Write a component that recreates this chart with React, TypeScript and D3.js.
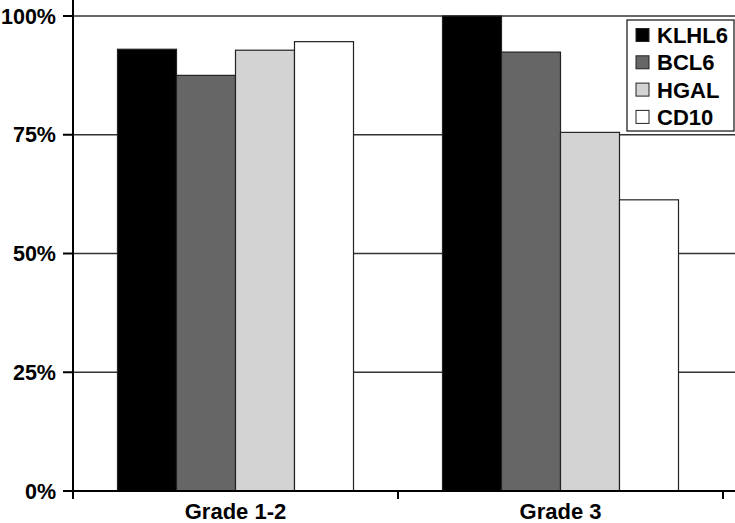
import React from "react";
import * as d3 from "d3";

const categories = ["Grade 1-2", "Grade 3"];
const seriesNames = ["KLHL6", "BCL6", "HGAL", "CD10"];
const seriesColors = ["#000000", "#666666", "#d3d3d3", "#ffffff"];
const klhl6 = [93.0, 100];
const bcl6 = [87.5, 92.4];
const hgal = [92.8, 75.5];
const cd10 = [94.6, 61.3];
const seriesValues = [klhl6, bcl6, hgal, cd10];
const yTicks = [0, 25, 50, 75, 100];
const yTickLabels = ["0%", "25%", "50%", "75%", "100%"];

const W = 735;
const H = 523;
const left = 73;
const right = 723;
const y0 = 491;
const y100 = 16;
const FONT = "'Liberation Sans', Arial, Helvetica, sans-serif";

export default function App() {
  const x = d3.scaleBand<string>().domain(categories).range([left, right]).paddingInner(0).paddingOuter(0);
  const y = d3.scaleLinear().domain([0, 100]).range([y0, y100]);
  const groupW = 236;
  const inner = d3
    .scaleBand<string>()
    .domain(seriesNames)
    .range([(x.bandwidth() - groupW) / 2, (x.bandwidth() + groupW) / 2])
    .padding(0);

  const legendX = 627;
  const legendY = 20;
  const rowH = 27.3;

  return (
    <svg
      width={W}
      height={H}
      style={{ position: "absolute", left: 0, top: 0, background: "#fff" }}
      fontFamily={FONT}
    >
      <rect x={0} y={0} width={W} height={H} fill="#fff" />
      {/* gridlines */}
      {yTicks.filter((t) => t > 0).map((t) => (
        <line key={t} x1={left} x2={W} y1={y(t)} y2={y(t)} stroke="#333" strokeWidth={1.3} />
      ))}
      {/* bars */}
      {categories.map((c, ci) => (
        <g key={c} transform={`translate(${x(c)},0)`}>
          {seriesNames.map((s, si) => {
            const v = seriesValues[si][ci];
            return (
              <rect
                key={s}
                x={inner(s)}
                y={y(v)}
                width={inner.bandwidth()}
                height={y(0) - y(v)}
                fill={seriesColors[si]}
                stroke="#222"
                strokeWidth={1.2}
              />
            );
          })}
        </g>
      ))}
      {/* y axis */}
      <line x1={left} x2={left} y1={0} y2={499} stroke="#000" strokeWidth={2} />
      {yTicks.map((t, i) => (
        <g key={t}>
          <line x1={63} x2={left} y1={y(t)} y2={y(t)} stroke="#000" strokeWidth={2} />
          <text
            x={56}
            y={y(t)}
            dy="0.36em"
            textAnchor="end"
            fontSize={21.5}
            fontWeight="bold"
            fill="#000"
          >
            {yTickLabels[i]}
          </text>
        </g>
      ))}
      {/* x axis */}
      <line x1={left} x2={W} y1={y0} y2={y0} stroke="#000" strokeWidth={2.2} />
      {[left, ...categories.map((c) => (x(c) as number) + x.bandwidth())].map((tx, i) => (
        <line key={i} x1={tx} x2={tx} y1={y0} y2={499} stroke="#000" strokeWidth={2} />
      ))}
      {categories.map((c) => (
        <text
          key={c}
          x={(x(c) as number) + x.bandwidth() / 2}
          y={519}
          textAnchor="middle"
          fontSize={22}
          fontWeight="bold"
          fill="#000"
        >
          {c}
        </text>
      ))}
      {/* legend */}
      <rect x={legendX} y={legendY} width={107} height={111} fill="#fff" stroke="#222" strokeWidth={1.3} />
      {seriesNames.map((s, i) => {
        const cy = 35 + i * rowH;
        return (
          <g key={s}>
            <rect x={636} y={cy - 6.5} width={13} height={13} fill={seriesColors[i]} stroke="#222" strokeWidth={1} />
            <text x={657} y={cy} dy="0.36em" fontSize={22} fontWeight="bold" fill="#000">
              {s}
            </text>
          </g>
        );
      })}
    </svg>
  );
}
